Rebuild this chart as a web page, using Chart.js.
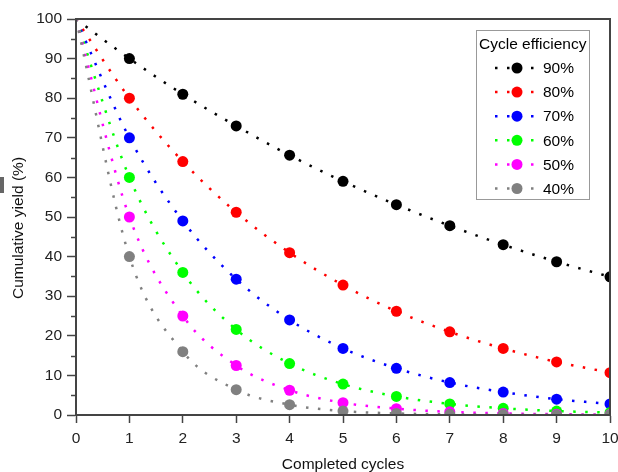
<!DOCTYPE html>
<html>
<head>
<meta charset="utf-8">
<script src="https://cdn.jsdelivr.net/npm/chart.js@4/dist/chart.umd.min.js"></script>
<style>
  body { margin: 0; background: #fff; }
  #wrap { position: relative; width: 618px; height: 472px; }
  #mark { position: absolute; left: 0; top: 177px; width: 4px; height: 16px; background: #666; }
</style>
</head>
<body>
<div id="wrap">
  <canvas id="chart" width="618" height="472"></canvas>
  <div id="mark"></div>
</div>
<script>
// --- Data ---
const cycles = [0, 1, 2, 3, 4, 5, 6, 7, 8, 9, 10];
const labels = ['90%', '80%', '70%', '60%', '50%', '40%'];
const colors = ['#000000', '#ff0000', '#0000ff', '#00ff00', '#ff00ff', '#808080'];

const eff90 = [100, 90, 81, 73, 65.6, 59, 53.1, 47.8, 43, 38.7, 34.9];
const eff80 = [100, 80, 64, 51.2, 41, 32.8, 26.2, 21, 16.8, 13.4, 10.7];
const eff70 = [100, 70, 49, 34.3, 24, 16.8, 11.8, 8.2, 5.8, 4, 2.8];
const eff60 = [100, 60, 36, 21.6, 13, 7.8, 4.7, 2.8, 1.7, 1, 0.6];
const eff50 = [100, 50, 25, 12.5, 6.25, 3.1, 1.6, 0.8, 0.4, 0.2, 0.1];
const eff40 = [100, 40, 16, 6.4, 2.6, 1, 0.4, 0.16, 0.07, 0.03, 0.01];
const series = [eff90, eff80, eff70, eff60, eff50, eff40];

const yTicks = [0, 10, 20, 30, 40, 50, 60, 70, 80, 90, 100];
const yMinor = [5, 15, 25, 35, 45, 55, 65, 75, 85, 95];

const axisColor = '#444';
const family = 'Liberation Sans, Arial, sans-serif';
const font = { family: family, size: 15.5 };

// frame, minor ticks, axis titles and legend
const extras = {
    id: 'extras',
    afterDraw(chart) {
        const ctx = chart.ctx;
        const a = chart.chartArea;
        const y = chart.scales.y;
        ctx.save();
        ctx.strokeStyle = axisColor;
        ctx.lineWidth = 2;
        ctx.strokeRect(a.left, a.top, a.right - a.left, a.bottom - a.top);

        // minor ticks on left axis
        ctx.lineWidth = 1.5;
        yMinor.forEach(v => {
            const py = Math.round(y.getPixelForValue(v)) + 0.5;
            ctx.beginPath();
            ctx.moveTo(a.left - 5, py);
            ctx.lineTo(a.left, py);
            ctx.stroke();
        });

        // axis titles
        ctx.fillStyle = '#111';
        ctx.font = '15.5px ' + family;
        ctx.textAlign = 'center';
        ctx.textBaseline = 'middle';
        ctx.fillText('Completed cycles', (a.left + a.right) / 2, 465);
        ctx.save();
        ctx.translate(19, 228);
        ctx.rotate(-Math.PI / 2);
        ctx.fillText('Cumulative yield (%)', 0, 0);
        ctx.restore();

        // legend box
        const bx = 476, by = 30, bw = 113, bh = 169;
        ctx.fillStyle = '#fff';
        ctx.fillRect(bx, by, bw, bh);
        ctx.strokeStyle = '#999';
        ctx.lineWidth = 1;
        ctx.strokeRect(bx + 0.5, by + 0.5, bw, bh);
        ctx.fillStyle = '#000';
        ctx.textAlign = 'left';
        ctx.fillText('Cycle efficiency', 479, 45);
        labels.forEach((txt, i) => {
            const ly = 68 + i * 24.1;
            ctx.strokeStyle = colors[i];
            ctx.lineWidth = 2.5;
            ctx.setLineDash([2.5, 9.5]);
            ctx.beginPath();
            ctx.moveTo(495, ly);
            ctx.lineTo(540, ly);
            ctx.stroke();
            ctx.setLineDash([]);
            ctx.fillStyle = colors[i];
            ctx.beginPath();
            ctx.arc(517, ly, 5.5, 0, Math.PI * 2);
            ctx.fill();
            ctx.fillStyle = '#000';
            ctx.fillText(txt, 543, ly + 1);
        });
        ctx.restore();
    }
};

new Chart(document.getElementById('chart'), {
    type: 'line',
    data: {
        datasets: series.map((vals, i) => ({
            label: labels[i],
            data: cycles.map((c, j) => ({ x: c, y: vals[j] })),
            borderColor: colors[i],
            backgroundColor: colors[i],
            borderWidth: 2.5,
            borderDash: [2.5, 9.5],
            cubicInterpolationMode: 'monotone',
            pointRadius: cycles.map(c => c === 0 ? 0 : 5.5),
            pointBorderWidth: 0,
            order: series.length - i
        }))
    },
    options: {
        responsive: false,
        animation: false,
        layout: { padding: { top: 19, right: 8, left: 0, bottom: 0 } },
        plugins: { legend: { display: false }, tooltip: { enabled: false } },
        scales: {
            x: {
                type: 'linear',
                min: 0, max: 10,
                ticks: { stepSize: 1, color: '#222', font: font, padding: 6, maxRotation: 0 },
                grid: { drawOnChartArea: false, tickLength: 8, tickColor: axisColor, tickWidth: 1.5 },
                border: { color: axisColor, width: 2 },
                afterFit: s => { s.height = 57; s.paddingLeft = 0; s.paddingRight = 0; }
            },
            y: {
                min: 0, max: 100,
                afterBuildTicks: s => { s.ticks = yTicks.map(v => ({ value: v })); },
                ticks: { color: '#222', font: font, padding: 5 },
                grid: { drawOnChartArea: false, tickLength: 9, tickColor: axisColor, tickWidth: 1.5 },
                border: { color: axisColor, width: 2 },
                afterFit: s => { s.width = 76; s.paddingTop = 0; s.paddingBottom = 0; }
            }
        }
    },
    plugins: [extras]
});
</script>
</body>
</html>
